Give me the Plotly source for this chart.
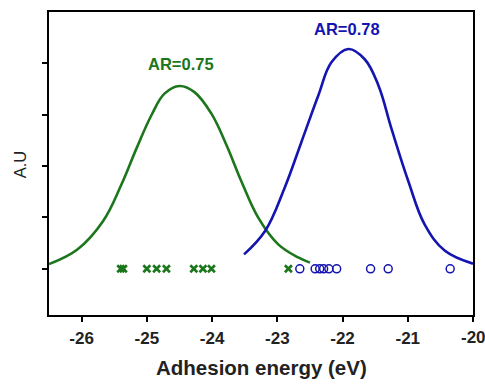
import plotly.graph_objects as go

# Fitted distribution curves
green_curve_x = [-26.5, -26.06, -25.67, -25.39, -25.16, -24.93, -24.73, -24.50,
                 -24.27, -24.01, -23.78, -23.55, -23.29, -22.99, -22.68, -22.50]
green_curve_y = [0.09, 0.38, 0.93, 1.64, 2.34, 2.99, 3.41, 3.56,
                 3.44, 3.02, 2.41, 1.70, 0.99, 0.48, 0.22, 0.12]

blue_curve_x = [-23.51, -23.19, -22.89, -22.63, -22.37, -22.17, -21.91,
                -21.66, -21.45, -21.25, -20.99, -20.74, -20.43, -20.0]
blue_curve_y = [0.28, 0.73, 1.57, 2.47, 3.38, 4.02, 4.28,
                4.08, 3.57, 2.73, 1.70, 0.86, 0.35, 0.10]

# Individual adhesion energies
green_points = [-25.40, -25.36, -25.00, -24.85, -24.70, -24.28, -24.14, -24.01, -22.83]
blue_points = [-22.655, -22.42, -22.35, -22.29, -22.21, -22.09, -21.57, -21.30, -20.35]

labels = ["AR=0.75", "AR=0.78"]
label_x = [-24.48, -21.93]
label_y = [3.98, 4.67]

x_ticks = [-26, -25, -24, -23, -22, -21, -20]
y_ticks = [0, 1, 2, 3, 4]

GREEN = "#1c761c"
BLUE = "#1414b0"
FONT = "Liberation Sans, Arial"

fig = go.Figure()
fig.add_trace(go.Scatter(x=green_curve_x, y=green_curve_y, mode="lines",
                         line=dict(color=GREEN, width=2.6, shape="spline", smoothing=1.1),
                         showlegend=False))
fig.add_trace(go.Scatter(x=blue_curve_x, y=blue_curve_y, mode="lines",
                         line=dict(color=BLUE, width=2.6, shape="spline", smoothing=1.1),
                         showlegend=False))
fig.add_trace(go.Scatter(x=green_points, y=[0] * len(green_points), mode="markers",
                         marker=dict(symbol="x-thin", size=7, line=dict(color=GREEN, width=2.6)),
                         showlegend=False))
fig.add_trace(go.Scatter(x=blue_points, y=[0] * len(blue_points), mode="markers",
                         marker=dict(symbol="circle-open", size=8, color=BLUE, line=dict(color=BLUE, width=1.5)),
                         showlegend=False))

for t, xx, yy, c in zip(labels, label_x, label_y, [GREEN, BLUE]):
    fig.add_annotation(x=xx, y=yy, text="<b>" + t + "</b>", showarrow=False,
                       font=dict(family=FONT, size=16.5, color=c))

fig.add_annotation(xref="paper", yref="paper", x=0.5, y=-0.174, yanchor="middle",
                   text="<b>Adhesion energy (eV)</b>", showarrow=False,
                   font=dict(family=FONT, size=20.5, color="#222"))
fig.add_annotation(xref="paper", yref="paper", x=-0.068, y=0.498, xanchor="center", yanchor="middle",
                   text="A.U", textangle=-90, showarrow=False,
                   font=dict(family=FONT, size=16.5, color="#222"))

# the last tick label runs past the right edge of the page (clipped in the original)
tick_text = ["<b>%d</b>" % v for v in x_ticks]
fig.add_annotation(x=x_ticks[-1], xref="x", yref="paper", y=-0.0754, yanchor="middle",
                   xanchor="center", text=tick_text[-1], showarrow=False,
                   font=dict(family=FONT, size=17, color="#222"))
tick_text[-1] = ""

fig.update_xaxes(range=[-26.5, -20], tickvals=x_ticks, ticktext=tick_text,
                 ticks="outside", ticklen=5, tickwidth=1.5, tickcolor="black",
                 showline=True, linecolor="black", linewidth=2, mirror=True,
                 showgrid=False, zeroline=False, ticklabelstandoff=2,
                 tickfont=dict(family=FONT, size=17, color="#222"))
fig.update_yaxes(range=[-0.9, 5.0], tickvals=y_ticks, showticklabels=False,
                 ticks="outside", ticklen=5, tickwidth=1.5, tickcolor="black",
                 showline=True, linecolor="black", linewidth=2, mirror=True,
                 showgrid=False, zeroline=False)

fig.update_layout(width=485, height=385, margin=dict(l=49, r=12, t=10, b=70),
                  paper_bgcolor="white", plot_bgcolor="white", showlegend=False)

fig.write_html("out.html")
